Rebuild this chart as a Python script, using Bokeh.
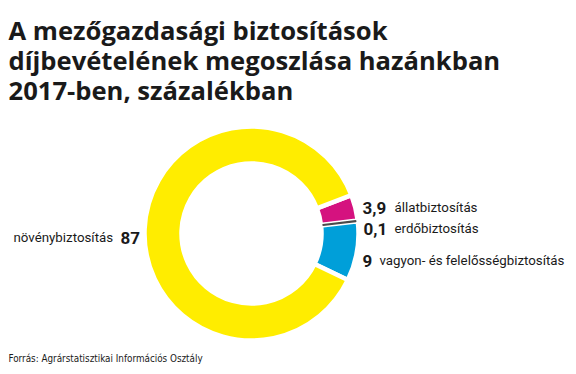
import numpy as np
from bokeh.plotting import figure
from bokeh.models import Range1d, ColumnDataSource
from bokeh.core.properties import value
from bokeh.embed import file_html
from bokeh.resources import INLINE

W, H = 576, 374

title_lines = [
    "A mezőgazdasági biztosítások",
    "díjbevételének megoszlása hazánkban",
    "2017-ben, százalékban",
]
categories = ["állatbiztosítás", "erdőbiztosítás", "vagyon- és felelősségbiztosítás", "növénybiztosítás"]
values = [3.9, 0.1, 9.0, 87.0]
value_labels = ["3,9", "0,1", "9", "87"]
colors = ["#D5127F", "#4a4a4a", "#009FD9", "#FFED00"]
source_text = "Forrás: Agrárstatisztikai Információs Osztály"

p = figure(width=W, height=H, output_backend="svg", toolbar_location=None,
           x_range=Range1d(0, W), y_range=Range1d(0, H), min_border=0,
           background_fill_color="white", border_fill_color="white")
p.axis.visible = False
p.grid.visible = False
p.outline_line_color = None

def Y(py):
    return H - py

# donut
cx, cy = 251, Y(233)
r_in, r_out = 70, 107
start_deg = 21.0
vals = np.array(values)
cum = np.concatenate([[0], np.cumsum(vals)[:-1]])
a_top = np.deg2rad(start_deg - cum * 3.6)
a_bot = np.deg2rad(start_deg - (cum + vals) * 3.6)

main = [0, 2, 3]
src = ColumnDataSource(dict(x=[cx] * 3, y=[cy] * 3,
                            s=[a_bot[i] for i in main], e=[a_top[i] for i in main],
                            c=[colors[i] for i in main]))
p.annular_wedge(x="x", y="y", inner_radius=r_in, outer_radius=r_out,
                start_angle="s", end_angle="e", direction="anticlock",
                fill_color="c", line_color="white", line_width=4.5, source=src)
# tiny segment as a thin dark line
p.annular_wedge(x=cx, y=cy, inner_radius=r_in + 2, outer_radius=r_out - 2,
                start_angle=a_bot[1], end_angle=a_top[1], direction="anticlock",
                fill_color=colors[1], line_color=colors[1], line_width=1.6)

txt_color = "#1a1a1a"
# title
p.text(x=[8] * 3, y=[Y(30), Y(60), Y(90)], text=title_lines,
       text_font=value("Open Sans"), text_font_style="bold", text_font_size="25.6px",
       text_color=txt_color, text_baseline="alphabetic", text_align="left")

# right labels
num_font = dict(text_font=value("Roboto"), text_font_style="bold", text_font_size="17px",
                text_color=txt_color, text_baseline="alphabetic", text_align="left")
lab_font = dict(text_font=value("Roboto"), text_font_size="13.3px",
                text_color=txt_color, text_baseline="alphabetic", text_align="left")
p.text(x=[362, 363, 362], y=[Y(207), Y(228), Y(260)], text=value_labels[:3], **num_font)
p.text(x=[394, 394, 379], y=[Y(207), Y(228), Y(260)], text=categories[:3], **lab_font)

# left label
p.text(x=[13], y=[Y(237)], text=[categories[3]], **lab_font)
p.text(x=[120], y=[Y(237)], text=[value_labels[3]], **num_font)

# source
p.text(x=[8], y=[Y(358)], text=[source_text], text_font=value("DejaVu Sans Condensed"),
       text_font_size="9.8px", text_color=txt_color, text_baseline="alphabetic", text_align="left")

open("out.html", "w").write(file_html(p, INLINE))
